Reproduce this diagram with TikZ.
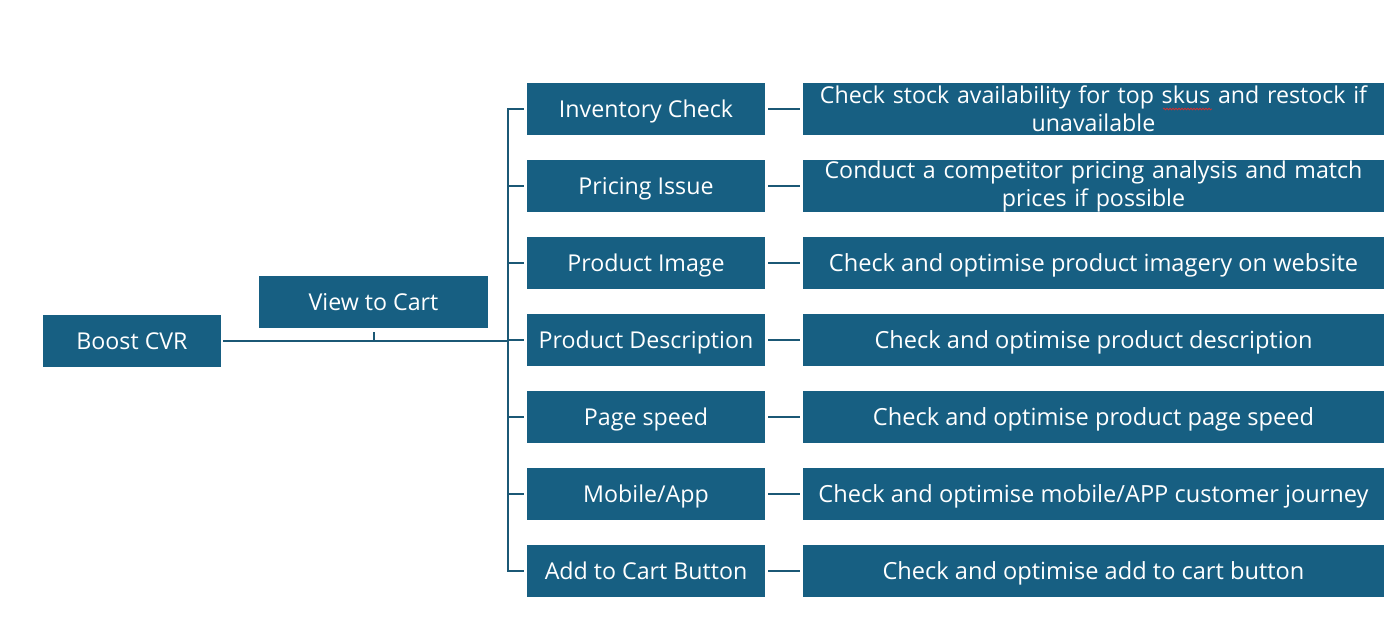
\documentclass[tikz,border=0pt]{standalone}
\usepackage{fontspec}
\setmainfont{Open Sans}
\usetikzlibrary{decorations.pathmorphing}
\definecolor{boxc}{HTML}{175F82}
\definecolor{linec}{HTML}{1B5875}
\definecolor{spell}{HTML}{D03030}
\tikzset{
  box/.style={fill=boxc, text=white, inner sep=0pt, align=center,
    minimum height=52pt, font=\fontsize{23.2}{28}\selectfont},
  one/.style={text height=17pt, text depth=0pt},
  lnk/.style={draw=linec, line width=2pt},
}
\begin{document}
\begin{tikzpicture}[x=1pt,y=-1pt]
\useasboundingbox (0,0) rectangle (1399,625);
\node[box, one, minimum width=178pt] (b) at (132,341) {Boost CVR};
\node[box, one, minimum width=229pt] (v) at (373.5,302) {View to Cart};
\foreach \i/\y/\m in {
  1/109/{Inventory Check}, 2/186/{Pricing Issue}, 3/263/{Product Image},
  4/340/{Product Description}, 5/417/{Page speed}, 6/494/{Mobile/App},
  7/571/{Add to Cart Button}}{
  \node[box, one, minimum width=238pt] (m\i) at (646,\y) {\m};
}
\node[box, minimum width=581pt, text width=579pt] (r1) at (1093.5,109) {Check stock availability for top skus and restock if\\unavailable};
\node[box, minimum width=581pt, text width=579pt] (r2) at (1093.5,186) {Conduct a competitor pricing analysis and match\\prices if possible};
\foreach \i/\y/\r in {
  3/263/{Check and optimise product imagery on website},
  4/340/{Check and optimise product description},
  5/417/{Check and optimise product page speed},
  6/494/{Check and optimise mobile/APP customer journey},
  7/571/{Check and optimise add to cart button}}{
  \node[box, one, minimum width=581pt, font=\fontsize{23.6}{28}\selectfont] (r\i) at (1093.5,\y) {\r};
}
\foreach \i in {1,...,7}{
  \draw[lnk] ([xshift=3pt]m\i.east) -- ([xshift=-3pt]r\i.west);
}
\coordinate (t) at (508,109);
\draw[lnk] ([xshift=-3pt]m1.west) -- (m1.west -| t) -- (m7.west -| t) -- ([xshift=-3pt]m7.west);
\foreach \i in {2,...,6}{
  \draw[lnk] (m\i.west -| t) -- ([xshift=-3pt]m\i.west);
}
\draw[lnk] ([xshift=2pt]b.east) -- (b.east -| t);
\draw[lnk] ([yshift=-4pt]v.south) -- (v.south |- b.east);
\draw[spell, line width=0.8pt, decorate, decoration={snake, amplitude=0.8pt, segment length=3pt}] (1163,109) -- (1212,109);
\end{tikzpicture}
\end{document}
